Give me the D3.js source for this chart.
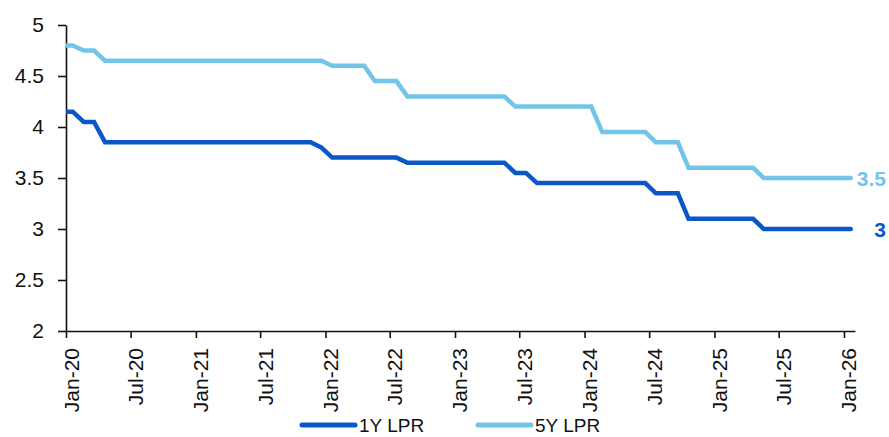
<!DOCTYPE html>
<html>
<head>
<meta charset="utf-8">
<script src="https://cdn.jsdelivr.net/npm/d3@7"></script>
<style>
  html, body { margin: 0; padding: 0; background: #fff; }
  svg { display: block; font-family: "Liberation Sans", Arial, sans-serif; }
</style>
</head>
<body>
<svg id="chart" width="889" height="437"></svg>
<script>
// Loan Prime Rate fixings (published on the 20th of each month), Dec 2019 – Jan 2026
const startMonth = "2019-12";
const oneYearLPR = [
  4.15, // Dec-19
  4.15, 4.05, 4.05, 3.85, 3.85, 3.85, 3.85, 3.85, 3.85, 3.85, 3.85, 3.85, // 2020
  3.85, 3.85, 3.85, 3.85, 3.85, 3.85, 3.85, 3.85, 3.85, 3.85, 3.85, 3.80, // 2021
  3.70, 3.70, 3.70, 3.70, 3.70, 3.70, 3.70, 3.65, 3.65, 3.65, 3.65, 3.65, // 2022
  3.65, 3.65, 3.65, 3.65, 3.65, 3.55, 3.55, 3.45, 3.45, 3.45, 3.45, 3.45, // 2023
  3.45, 3.45, 3.45, 3.45, 3.45, 3.45, 3.35, 3.35, 3.35, 3.10, 3.10, 3.10, // 2024
  3.10, 3.10, 3.10, 3.10, 3.00, 3.00, 3.00, 3.00, 3.00, 3.00, 3.00, 3.00, // 2025
  3.00  // Jan-26
];
const fiveYearLPR = [
  4.80, // Dec-19
  4.80, 4.75, 4.75, 4.65, 4.65, 4.65, 4.65, 4.65, 4.65, 4.65, 4.65, 4.65, // 2020
  4.65, 4.65, 4.65, 4.65, 4.65, 4.65, 4.65, 4.65, 4.65, 4.65, 4.65, 4.65, // 2021
  4.60, 4.60, 4.60, 4.60, 4.45, 4.45, 4.45, 4.30, 4.30, 4.30, 4.30, 4.30, // 2022
  4.30, 4.30, 4.30, 4.30, 4.30, 4.20, 4.20, 4.20, 4.20, 4.20, 4.20, 4.20, // 2023
  4.20, 3.95, 3.95, 3.95, 3.95, 3.95, 3.85, 3.85, 3.85, 3.60, 3.60, 3.60, // 2024
  3.60, 3.60, 3.60, 3.60, 3.50, 3.50, 3.50, 3.50, 3.50, 3.50, 3.50, 3.50, // 2025
  3.50  // Jan-26
];
const seriesNames = ["1Y LPR", "5Y LPR"];
const seriesColors = ["#0a58c6", "#72c5e8"];
const yTicks = [2, 2.5, 3, 3.5, 4, 4.5, 5];
const xTickLabelFormat = "%b-%y";

// Build dated observations (fixing day = 20th of each month)
const [sy, sm] = startMonth.split("-").map(Number);
const dates = oneYearLPR.map((_, i) => new Date(sy, sm - 1 + i, 20));
const series = [oneYearLPR, fiveYearLPR].map((vals, k) => ({
  name: seriesNames[k],
  color: seriesColors[k],
  points: vals.map((v, i) => ({ date: dates[i], value: v }))
}));

const svg = d3.select("#chart");
const margin = { left: 66, top: 25, bottom: 106 };
const height = 437;
const plotBottom = height - margin.bottom;
const fontSize = 21;

const x = d3.scaleTime()
  .domain([new Date(2020, 0, 1), new Date(2026, 1, 1)])
  .range([margin.left, 855]);
const y = d3.scaleLinear()
  .domain([2, 5])
  .range([plotBottom, margin.top]);

// Clip lines to the plotted date range
svg.append("defs").append("clipPath").attr("id", "plotClip")
  .append("rect")
  .attr("x", x.range()[0]).attr("y", 0)
  .attr("width", x.range()[1] - x.range()[0] + 10).attr("height", height);

// Y axis
const yAxis = d3.axisLeft(y)
  .tickValues(yTicks)
  .tickFormat(d => String(d))
  .tickSize(8)
  .tickSizeOuter(0)
  .tickPadding(14);
const gy = svg.append("g")
  .attr("transform", `translate(${margin.left},0)`)
  .call(yAxis);
gy.selectAll("text")
  .attr("font-size", fontSize)
  .attr("fill", "#111");

// X axis: ticks every six months, labels rotated
const xTickDates = d3.timeMonth.range(new Date(2020, 0, 1), new Date(2026, 0, 2), 6);
const xAxis = d3.axisBottom(x)
  .tickValues(xTickDates)
  .tickFormat(d3.timeFormat(xTickLabelFormat))
  .tickSize(7)
  .tickSizeOuter(0);
const gx = svg.append("g")
  .attr("transform", `translate(0,${plotBottom})`)
  .call(xAxis);
gx.selectAll("text")
  .attr("font-size", fontSize)
  .attr("fill", "#111")
  .attr("transform", "rotate(-90)")
  .attr("text-anchor", "end")
  .attr("x", -17)
  .attr("y", 12)
  .attr("dy", 0);

[gx, gy].forEach(g => {
  g.selectAll("path.domain, .tick line")
    .attr("stroke", "#111")
    .attr("stroke-width", 1.6);
});

// Lines
const line = d3.line()
  .x(d => x(d.date))
  .y(d => y(d.value));

const linesG = svg.append("g").attr("clip-path", "url(#plotClip)");
linesG.selectAll("path")
  .data(series)
  .join("path")
  .attr("fill", "none")
  .attr("stroke", d => d.color)
  .attr("stroke-width", 4.5)
  .attr("stroke-linejoin", "miter")
  .attr("stroke-linecap", "round")
  .attr("d", d => line(d.points));

// Last-value labels
series.forEach(s => {
  const last = s.points[s.points.length - 1];
  svg.append("text")
    .attr("x", 886)
    .attr("y", y(last.value))
    .attr("dy", "0.36em")
    .attr("text-anchor", "end")
    .attr("font-size", fontSize)
    .attr("font-weight", "bold")
    .attr("fill", s.color)
    .text(d3.format("~g")(last.value));
});

// Legend
const legendItems = [
  { s: series[0], x: 302 },
  { s: series[1], x: 478 }
];
const legendY = 425;
legendItems.forEach(({ s, x: lx }) => {
  svg.append("line")
    .attr("x1", lx).attr("x2", lx + 53)
    .attr("y1", legendY).attr("y2", legendY)
    .attr("stroke", s.color)
    .attr("stroke-width", 5)
    .attr("stroke-linecap", "round");
  svg.append("text")
    .attr("x", lx + 57)
    .attr("y", legendY)
    .attr("dy", "0.35em")
    .attr("font-size", 19)
    .attr("fill", "#111")
    .text(s.name);
});
</script>
</body>
</html>
